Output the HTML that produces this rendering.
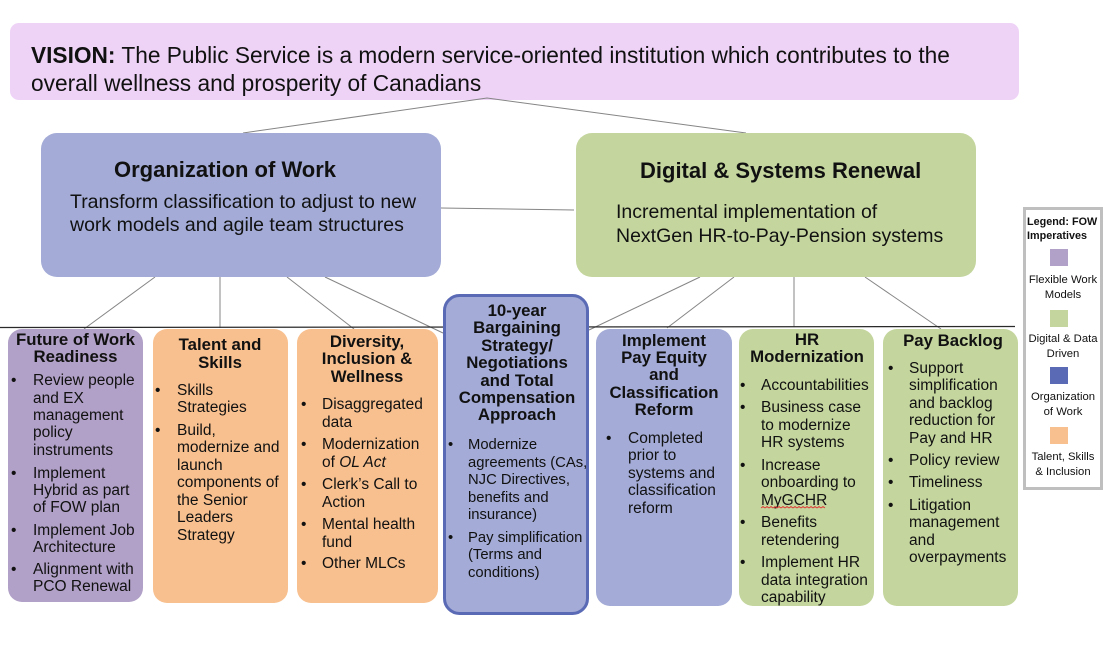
<!DOCTYPE html>
<html><head><meta charset="utf-8"><style>
html,body{margin:0;padding:0;background:#fff;}
svg{display:block;}
text{font-family:"Liberation Sans",Arial,sans-serif;fill:#111;}
.b{font-size:15.5px;}
.t{font-size:16.8px;font-weight:bold;text-anchor:middle;}
.lg{font-size:11.3px;text-anchor:middle;}
</style></head><body>
<svg width="1111" height="647" viewBox="0 0 1111 647" xmlns="http://www.w3.org/2000/svg">
<rect x="0" y="0" width="1111" height="647" fill="#fff"/>
<!-- vision -->
<rect x="10" y="23" width="1009" height="77" rx="9" fill="#eed3f7"/>
<text x="31" y="63" style="font-size:22.7px"><tspan font-weight="bold">VISION:</tspan> The Public Service is a modern service-oriented institution which contributes to the</text>
<text x="31" y="91" style="font-size:22.7px">overall wellness and prosperity of Canadians</text>
<!-- connectors -->
<g stroke="#858585" stroke-width="1" fill="none">
<polyline points="243,133 487,98 746,133"/>
<line x1="441" y1="208" x2="574" y2="210"/>
<line x1="155" y1="277" x2="84" y2="329"/>
<line x1="220" y1="277" x2="220" y2="328"/>
<line x1="287" y1="277" x2="354" y2="329"/>
<line x1="325" y1="277" x2="443" y2="333"/>
<line x1="700" y1="277" x2="589" y2="330"/>
<line x1="734" y1="277" x2="667" y2="328"/>
<line x1="794" y1="277" x2="794" y2="327"/>
<line x1="865" y1="277" x2="941" y2="329"/>
</g>
<line x1="0" y1="327.5" x2="1015" y2="326.5" stroke="#2a2a2a" stroke-width="1.3"/>
<!-- org of work -->
<rect x="41" y="133" width="400" height="144" rx="16" fill="#a3abd6"/>
<text x="114" y="177" style="font-size:22px;font-weight:bold">Organization of Work</text>
<text x="70" y="208" style="font-size:19.5px">Transform classification to adjust to new</text>
<text x="70" y="231" style="font-size:19.5px">work models and agile team structures</text>
<!-- digital -->
<rect x="576" y="133" width="400" height="144" rx="16" fill="#c4d69e"/>
<text x="640" y="178" style="font-size:22px;font-weight:bold">Digital &amp; Systems Renewal</text>
<text x="616" y="218" style="font-size:19.5px">Incremental implementation of</text>
<text x="616" y="242" style="font-size:19.5px">NextGen HR-to-Pay-Pension systems</text>

<!-- Box 1 FOW -->
<rect x="8" y="329" width="135" height="273" rx="14" fill="#b1a0c7"/>
<text class="t" x="75.5" y="345">Future of Work</text>
<text class="t" x="75.5" y="362">Readiness</text>
<g class="b">
<text x="11" y="385">•</text><text x="33" y="385">Review people</text>
<text x="33" y="403">and EX</text><text x="33" y="420">management</text><text x="33" y="437">policy</text><text x="33" y="455">instruments</text>
<text x="11" y="478">•</text><text x="33" y="478">Implement</text>
<text x="33" y="495">Hybrid as part</text><text x="33" y="512">of FOW plan</text>
<text x="11" y="535">•</text><text x="33" y="535">Implement Job</text>
<text x="33" y="552">Architecture</text>
<text x="11" y="574">•</text><text x="33" y="574">Alignment with</text>
<text x="33" y="591">PCO Renewal</text>
</g>

<!-- Box 2 Talent -->
<rect x="153" y="329" width="135" height="274" rx="14" fill="#f8c08f"/>
<text class="t" x="220" y="350">Talent and</text>
<text class="t" x="220" y="368">Skills</text>
<g class="b">
<text x="155" y="395">•</text><text x="177" y="395">Skills</text>
<text x="177" y="412">Strategies</text>
<text x="155" y="435">•</text><text x="177" y="435">Build,</text>
<text x="177" y="452">modernize and</text><text x="177" y="470">launch</text><text x="177" y="487">components of</text><text x="177" y="505">the Senior</text><text x="177" y="522">Leaders</text><text x="177" y="540">Strategy</text>
</g>

<!-- Box 3 Diversity -->
<rect x="297" y="329" width="141" height="274" rx="14" fill="#f8c08f"/>
<text class="t" x="367" y="347">Diversity,</text>
<text class="t" x="367" y="364">Inclusion &amp;</text>
<text class="t" x="367" y="382">Wellness</text>
<g class="b">
<text x="301" y="409">•</text><text x="322" y="409">Disaggregated</text>
<text x="322" y="427">data</text>
<text x="301" y="449">•</text><text x="322" y="449">Modernization</text>
<text x="322" y="467">of <tspan font-style="italic">OL Act</tspan></text>
<text x="301" y="489">•</text><text x="322" y="489">Clerk’s Call to</text>
<text x="322" y="507">Action</text>
<text x="301" y="529">•</text><text x="322" y="529">Mental health</text>
<text x="322" y="547">fund</text>
<text x="301" y="568">•</text><text x="322" y="568">Other MLCs</text>
</g>

<!-- Box 4 10-year -->
<rect x="444.5" y="295.5" width="143" height="318" rx="15" fill="#a3abd6" stroke="#5a6ab5" stroke-width="3"/>
<text class="t" x="517" y="316">10-year</text>
<text class="t" x="517" y="333">Bargaining</text>
<text class="t" x="517" y="351">Strategy/</text>
<text class="t" x="517" y="368">Negotiations</text>
<text class="t" x="517" y="386">and Total</text>
<text class="t" x="517" y="403">Compensation</text>
<text class="t" x="517" y="420">Approach</text>
<g class="b" style="font-size:14.8px">
<text x="448" y="449">•</text><text x="468" y="449">Modernize</text>
<text x="468" y="467">agreements (CAs,</text><text x="468" y="484">NJC Directives,</text><text x="468" y="502">benefits and</text><text x="468" y="519">insurance)</text>
<text x="448" y="542">•</text><text x="468" y="542">Pay simplification</text>
<text x="468" y="559">(Terms and</text><text x="468" y="577">conditions)</text>
</g>

<!-- Box 5 Pay Equity -->
<rect x="596" y="329" width="136" height="277" rx="14" fill="#a3abd6"/>
<text class="t" x="664" y="346">Implement</text>
<text class="t" x="664" y="363">Pay Equity</text>
<text class="t" x="664" y="380">and</text>
<text class="t" x="664" y="398">Classification</text>
<text class="t" x="664" y="415">Reform</text>
<g class="b">
<text x="606" y="443">•</text><text x="628" y="443">Completed</text>
<text x="628" y="460">prior to</text><text x="628" y="478">systems and</text><text x="628" y="495">classification</text><text x="628" y="513">reform</text>
</g>

<!-- Box 6 HR Mod -->
<rect x="739" y="329" width="135" height="277" rx="14" fill="#c4d69e"/>
<text class="t" x="807" y="345">HR</text>
<text class="t" x="807" y="362">Modernization</text>
<g class="b">
<text x="740" y="390">•</text><text x="761" y="390">Accountabilities</text>
<text x="740" y="412">•</text><text x="761" y="412">Business case</text>
<text x="761" y="430">to modernize</text><text x="761" y="447">HR systems</text>
<text x="740" y="470">•</text><text x="761" y="470">Increase</text>
<text x="761" y="487">onboarding to</text><text x="761" y="505">MyGCHR</text>
<text x="740" y="527">•</text><text x="761" y="527">Benefits</text>
<text x="761" y="545">retendering</text>
<text x="740" y="567">•</text><text x="761" y="567">Implement HR</text>
<text x="761" y="585">data integration</text><text x="761" y="602">capability</text>
</g>
<path d="M761 508 l2 -1.5 l2 1.5 l2 -1.5 l2 1.5 l2 -1.5 l2 1.5 l2 -1.5 l2 1.5 l2 -1.5 l2 1.5 l2 -1.5 l2 1.5 l2 -1.5 l2 1.5 l2 -1.5 l2 1.5 l2 -1.5 l2 1.5 l2 -1.5 l2 1.5 l2 -1.5 l2 1.5 l2 -1.5 l2 1.5 l2 -1.5 l2 1.5 l2 -1.5 l2 1.5 l2 -1.5 l2 1.5 l2 -1.5 l2 1.5" stroke="#e03030" stroke-width="0.8" fill="none"/>

<!-- Box 7 Pay Backlog -->
<rect x="883" y="329" width="135" height="277" rx="14" fill="#c4d69e"/>
<text class="t" x="953" y="346">Pay Backlog</text>
<g class="b">
<text x="888" y="373">•</text><text x="909" y="373">Support</text>
<text x="909" y="390">simplification</text><text x="909" y="408">and backlog</text><text x="909" y="425">reduction for</text><text x="909" y="443">Pay and HR</text>
<text x="888" y="465">•</text><text x="909" y="465">Policy review</text>
<text x="888" y="487">•</text><text x="909" y="487">Timeliness</text>
<text x="888" y="510">•</text><text x="909" y="510">Litigation</text>
<text x="909" y="527">management</text><text x="909" y="545">and</text><text x="909" y="562">overpayments</text>
</g>

<!-- Legend -->
<rect x="1024.5" y="208.5" width="77" height="280" fill="#fff" stroke="#bfbfbf" stroke-width="3"/>
<text x="1027" y="225" style="font-size:10.8px;font-weight:bold">Legend: FOW</text>
<text x="1027" y="239" style="font-size:10.8px;font-weight:bold">Imperatives</text>
<rect x="1050" y="249" width="18" height="17" fill="#b1a0c7"/>
<text class="lg" x="1063" y="283">Flexible Work</text>
<text class="lg" x="1063" y="298">Models</text>
<rect x="1050" y="310" width="18" height="17" fill="#c4d69e"/>
<text class="lg" x="1063" y="342">Digital &amp; Data</text>
<text class="lg" x="1063" y="357">Driven</text>
<rect x="1050" y="367" width="18" height="17" fill="#5a6ab5"/>
<text class="lg" x="1063" y="400">Organization</text>
<text class="lg" x="1063" y="415">of Work</text>
<rect x="1050" y="427" width="18" height="17" fill="#f8c08f"/>
<text class="lg" x="1063" y="460">Talent, Skills</text>
<text class="lg" x="1063" y="475">&amp; Inclusion</text>
</svg>
</body></html>
